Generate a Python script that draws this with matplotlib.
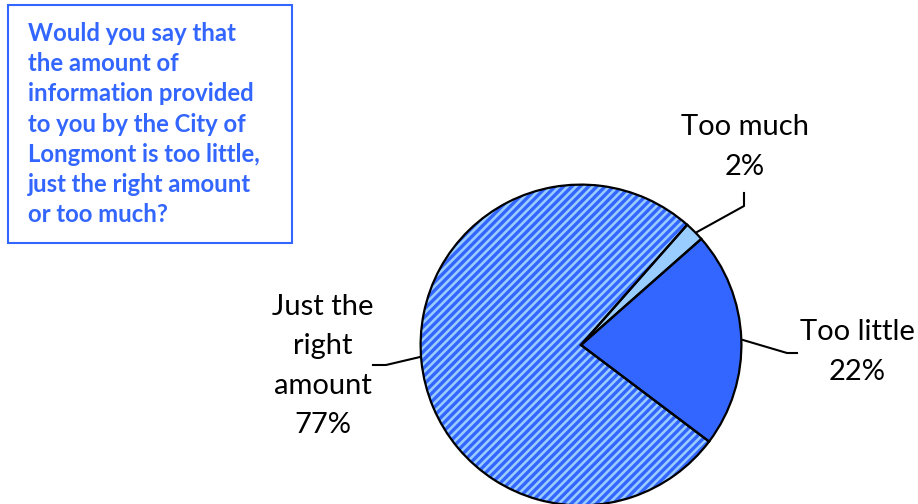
import matplotlib
matplotlib.use("Agg")
import matplotlib.pyplot as plt
from matplotlib.patches import Rectangle

# data
categories = ["Too little", "Too much", "Just the\nright\namount"]
percents = [22, 2, 77]
colors = ["#3366ff", "#99ccff", "#99ccff"]
hatches = ["", "", "////"]

question = ("Would you say that\nthe amount of\ninformation provided\n"
            "to you by the City of\nLongmont is too little,\n"
            "just the right amount\nor too much?")

W, H = 918, 504
plt.rcParams['hatch.linewidth'] = 2.4
plt.rcParams['font.family'] = ['Lato', 'DejaVu Sans']

fig = plt.figure(figsize=(W / 100, H / 100), dpi=100)

# overlay in pixel coords for box, labels, leader lines
ov = fig.add_axes([0, 0, 1, 1])
ov.set_xlim(0, W)
ov.set_ylim(H, 0)
ov.axis('off')

# pie axes: center (581,345), radius 162 px
cx, cy, r = 581, 345, 162
ax = fig.add_axes([(cx - r) / W, (H - cy - r) / H, 2 * r / W, 2 * r / H])
ax.pie(percents, colors=colors, hatch=hatches, startangle=-37,
       counterclock=True, radius=1,
       wedgeprops=dict(edgecolor="#3366ff", linewidth=0))
ax.pie(percents, colors=["none"] * 3, startangle=-37, counterclock=True,
       radius=1, wedgeprops=dict(edgecolor="black", linewidth=1.6, fill=False))
ax.set_xlim(-1.01, 1.01)
ax.set_ylim(-1.01, 1.01)
ax.set_aspect('equal')
ax.axis('off')

# question box
ov.add_patch(Rectangle((8, 5), 284, 238, fill=False, edgecolor="#3366ff", lw=1.5))
ov.text(28, 124, question, color="#3366ff", fontsize=17.2, fontweight='bold',
        va='center', ha='left', linespacing=1.38)

# labels
lab_kw = dict(ha='center', va='center', fontsize=21, color='black', linespacing=1.62)
ov.text(857, 352, f"{categories[0]}\n{percents[0]}%", **lab_kw)
ov.text(745, 147, f"{categories[1]}\n{percents[1]}%", **lab_kw)
ov.text(323, 366, f"{categories[2]}\n{percents[2]}%", **lab_kw)

# leader lines
ov.plot([743, 787, 797], [340, 353, 353], color='black', lw=1.5)
ov.plot([697, 744, 744], [232, 206, 193], color='black', lw=1.5)
ov.plot([420, 386, 373], [357, 365, 365], color='black', lw=1.5)

fig.savefig("out.png", dpi=100)
